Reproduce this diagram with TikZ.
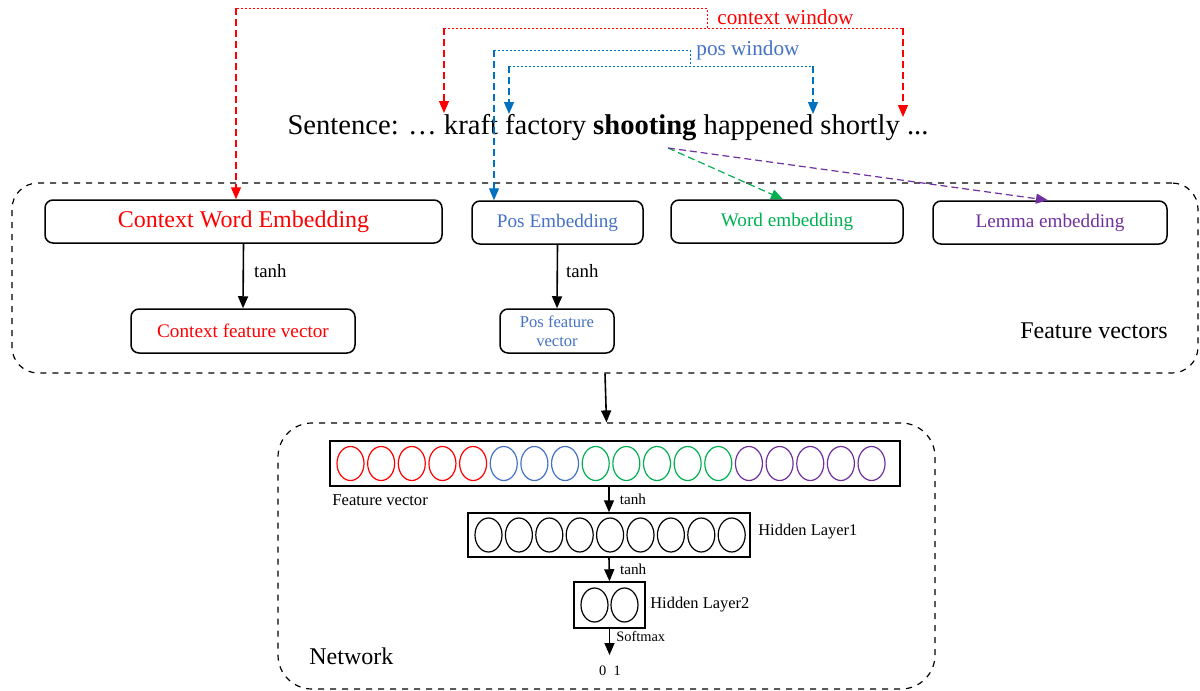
\documentclass[tikz,border=0pt]{standalone}
\usepackage{fontspec}
\setmainfont{Liberation Serif}
\usetikzlibrary{shapes.geometric,arrows.meta}
\definecolor{cred}{HTML}{FF0000}
\definecolor{cblue}{HTML}{4472C4}
\definecolor{cblueA}{HTML}{0070C0}
\definecolor{cgreen}{HTML}{00B050}
\definecolor{cpurple}{HTML}{7030A0}
\newcommand\fsz[2]{\fontsize{#1pt}{#2pt}\selectfont}
\begin{document}
\begin{tikzpicture}[x=0.5pt,y=-0.5pt,
 box/.style={draw,rounded corners=4pt,line width=0.75pt,inner sep=0pt,align=center},
 sqbox/.style={draw,line width=0.75pt,inner sep=0pt},
 grp/.style={draw,dashed,line width=0.6pt,inner sep=0pt},
 cell/.style={draw,ellipse,line width=0.6pt,minimum width=13.5pt,minimum height=17pt,inner sep=0pt},
 tip/.style={-{Triangle[width=5pt,length=6pt]}},
 vdash/.style={dash pattern=on 3.5pt off 2pt,line width=0.6pt},
 hdot/.style={dash pattern=on 1pt off 1pt,line width=0.5pt},
 solidarr/.style={-{Triangle[width=5pt,length=6pt]},line width=0.8pt},
 lbl/.style={inner sep=0pt,anchor=west},
]
\useasboundingbox (0,0) rectangle (1200,691);

% group boxes
\node[grp,rounded corners=13pt,minimum width=593pt,minimum height=95pt] (fv) at (605,278) {};
\node[grp,rounded corners=17pt,minimum width=328.5pt,minimum height=133pt] (net) at (606.5,556) {};

% sentence
\node[inner sep=0pt,font=\fsz{14.3}{17}] (sent) at (608,128) {Sentence: … kraft factory \textbf{shooting} happened shortly ...};

% embedding boxes
\node[box,minimum width=198.5pt,minimum height=21.5pt,text=cred,font=\fsz{12}{14}] (cwe) at (243.5,221.5) {Context Word Embedding};
\node[box,minimum width=85.5pt,minimum height=21.5pt,text=cblue,font=\fsz{9.6}{11}] (pose) at (557.5,222.5) {Pos Embedding};
\node[box,minimum width=116pt,minimum height=21.5pt,text=cgreen,font=\fsz{9.6}{11}] (worde) at (787,221.5) {Word embedding};
\node[box,minimum width=117pt,minimum height=21.5pt,text=cpurple,font=\fsz{9.6}{11}] (lemmae) at (1050,222.5) {Lemma embedding};
\node[box,minimum width=112pt,minimum height=22pt,text=cred,font=\fsz{9.6}{11}] (cfv) at (243,331) {Context feature vector};
\node[box,minimum width=57pt,minimum height=22pt,text=cblue,font=\fsz{8.3}{9.7}] (pfv) at (557,331) {Pos feature\\vector};
\node[lbl,anchor=east,font=\fsz{12}{14}] (fvl) at (1168,331) {Feature vectors};

\draw[solidarr] (cwe.south) -- (cfv.north) node[pos=0.42,lbl,xshift=5pt,font=\fsz{9.4}{11}] {tanh};
\draw[solidarr] (pose.south) -- (pfv.north) node[pos=0.42,lbl,xshift=4pt,font=\fsz{9.4}{11}] {tanh};

% window connectors
\coordinate (rA) at (236,8);
\coordinate (rB) at (707,8);
\coordinate (rC) at (707,28);
\coordinate (rL) at (444,28);
\coordinate (rR) at (903,28);
\coordinate (kraft) at (444,113);
\coordinate (shortly) at (903,117);
\draw[cred,hdot] (rC) -- (rB) -- (rA);
\draw[cred,hdot] (rL) -- (rR);
\draw[cred,vdash,tip] (rA) -- (rA |- cwe.north);
\draw[cred,vdash,tip] (rL) -- (kraft);
\draw[cred,vdash,tip] (rR) -- (shortly);
\node[lbl,text=cred,font=\fsz{10.6}{12}] (cwl) at (717,17) {context window};

\coordinate (bA) at (494,50);
\coordinate (bB) at (690,50);
\coordinate (bC) at (690,66);
\coordinate (bL) at (509,66);
\coordinate (bR) at (813,66);
\coordinate (factory) at (509,114);
\coordinate (happened) at (813,114);
\draw[cblueA,hdot] (bA) -- (bB) -- (bC);
\draw[cblueA,hdot] (bL) -- (bR);
\draw[cblueA,vdash,tip] (bA) -- (bA |- pose.north);
\draw[cblueA,vdash,tip] (bL) -- (factory);
\draw[cblueA,vdash,tip] (bR) -- (happened);
\node[lbl,text=cblue,font=\fsz{10.6}{12}] (pwl) at (696,50) {pos window};

\coordinate (shoot) at (668,148);
\draw[cgreen,vdash,tip] (shoot) -- ([xshift=-2pt]worde.north);
\draw[cpurple,vdash,tip] (shoot) -- ([xshift=-1pt]lemmae.north);

% network
\draw[solidarr] (fv.south) -- (net.north);

\node[sqbox,minimum width=285pt,minimum height=22.5pt] (fvec) at (615,463.5) {};
\foreach \i in {0,...,4} \node[cell,draw=cred] (fc\i) at (350.5+30.65*\i,463.5) {};
\foreach \i in {5,...,7} \node[cell,draw=cblue] (fc\i) at (350.5+30.65*\i,463.5) {};
\foreach \i in {8,...,12} \node[cell,draw=cgreen] (fc\i) at (350.5+30.65*\i,463.5) {};
\foreach \i in {13,...,17} \node[cell,draw=cpurple] (fc\i) at (350.5+30.65*\i,463.5) {};
\node[lbl,font=\fsz{8.3}{10}] (fvecl) at (332,500) {Feature vector};

\node[sqbox,minimum width=141pt,minimum height=22pt] (hl1) at (609,535) {};
\foreach \i in {0,...,8} \node[cell,draw=black] (hc\i) at (488.5+30.4*\i,535) {};
\node[lbl,font=\fsz{8.2}{10}] (h1l) at (758,532) {Hidden Layer1};

\node[sqbox,minimum width=35.5pt,minimum height=23pt] (hl2) at (609.5,605) {};
\node[cell,draw=black] (ha) at (594.5,605) {};
\node[cell,draw=black] (hb) at (624.5,605) {};
\node[lbl,font=\fsz{8.2}{10}] (h2l) at (650,605) {Hidden Layer2};

\draw[solidarr] (fvec.south -| hl1.north) -- (hl1.north) node[midway,lbl,xshift=5pt,font=\fsz{7.6}{9}] {tanh};
\draw[solidarr] (hl1.south) -- (hl2.north) node[midway,lbl,xshift=5pt,font=\fsz{7.6}{9}] {tanh};
\coordinate (out) at (609.5,655);
\draw[solidarr] (hl2.south) -- (out) node[pos=0.3,lbl,xshift=3pt,font=\fsz{7.2}{9}] {Softmax};
\node[inner sep=0pt,font=\fsz{7.2}{9}] (outl) at (610,671) {0\ \ 1};

\node[lbl,font=\fsz{12}{14}] (netl) at (309,656) {Network};
\end{tikzpicture}
\end{document}
